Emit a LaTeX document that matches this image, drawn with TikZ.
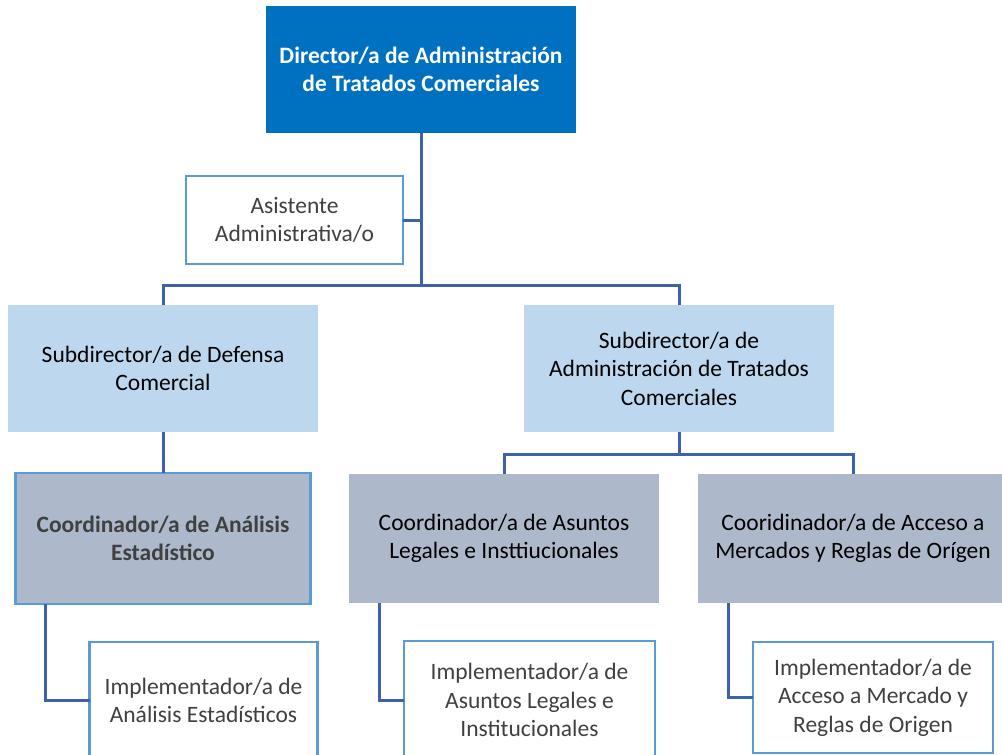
\documentclass[tikz,border=0pt]{standalone}
\usepackage{fontspec}
\setmainfont{Carlito}
\usepackage{tikz}
\usetikzlibrary{positioning}
\definecolor{dirblue}{HTML}{0070C0}
\definecolor{subblue}{HTML}{BDD7EE}
\definecolor{coordgray}{HTML}{ADB9CA}
\definecolor{edgeblue}{HTML}{5B9BD5}
\definecolor{linkblue}{HTML}{3C62AD}
\definecolor{textgray}{HTML}{404040}
\tikzset{
  puesto/.style={
    rectangle,
    inner sep=0pt, outer sep=0pt,
    minimum width=310pt, minimum height=127pt,
    text centered, align=center,
    font=\fontsize{23.5}{28.5}\selectfont
  },
  dirbox/.style={puesto, fill=dirblue, text=white, font=\fontsize{23.5}{28.5}\selectfont\bfseries},
  subbox/.style={puesto, fill=subblue, text=black},
  coordbox/.style={puesto, fill=coordgray, text=black, minimum height=129pt},
  whitebox/.style={puesto, fill=white, draw=edgeblue, line width=2.5pt, text=textgray},
  link/.style={draw=linkblue, line width=3pt},
}
\begin{document}
\begin{tikzpicture}[x=1pt,y=-1pt]
      \useasboundingbox (0,0) rectangle (1002,755);
      \clip (0,0) rectangle (1002,755);

      \node[dirbox] (dir) at (421,69.5) {Director/a de Administración\\de Tratados Comerciales};
      \node[whitebox, minimum width=217pt, minimum height=88pt, anchor=north east,
        below left=43pt and 18pt of dir.south] (asis) {Asistente\\Administrativa/o};
      \node[subbox, below=172pt of dir, xshift=-258pt] (subdef) {Subdirector/a de Defensa\\Comercial};
      \node[subbox, below=172pt of dir, xshift=258pt] (subadm) {Subdirector/a de\\Administración de Tratados\\Comerciales};

      \node[coordbox, draw=edgeblue, line width=2.5pt, minimum width=295pt, minimum height=131pt,
        text=textgray, font=\fontsize{23.5}{28.5}\selectfont\bfseries,
        below=41pt of subdef] (coordan) {Coordinador/a de Análisis\\Estadístico};
      \node[coordbox, below=42pt of subadm, xshift=-175pt] (coordas) {Coordinador/a de Asuntos\\Legales e Insttiucionales};
      \node[coordbox, below=42pt of subadm, xshift=174pt] (coordac) {Cooridinador/a de Acceso a\\Mercados y Reglas de Orígen};

      \node[whitebox, minimum width=228pt, minimum height=117pt, anchor=north west,
        below right=38pt and 74pt of coordan.south west] (implan) {Implementador/a de\\Análisis Estadísticos};
      \node[whitebox, minimum width=251pt, minimum height=118pt, anchor=north west,
        below right=38pt and 55pt of coordas.south west] (implas) {Implementador/a de\\Asuntos Legales e\\Institucionales};
      \node[whitebox, minimum width=240pt, minimum height=111pt, anchor=north west,
        below right=39pt and 55pt of coordac.south west] (implac) {Implementador/a de\\Acceso a Mercado y\\Reglas de Origen};

      \coordinate (bar) at (421,285);
      \coordinate (bar2) at (679,454);
      \path[link]
      (dir.south) -- (bar)
      (asis.east) -- (asis.east -| bar)
      (subdef.north) |- (bar) -| (subadm.north)
      (subdef.south) -- (coordan.north)
      (subadm.south) -- (bar2)
      (coordas.north) |- (bar2) -| (coordac.north);
      \draw[link] (coordan.south west) ++(30pt,0) |- (implan.west);
      \draw[link] (coordas.south west) ++(30pt,0) |- (implas.west);
      \draw[link] (coordac.south west) ++(30pt,0) |- (implac.west);
    \end{tikzpicture}
\end{document}
